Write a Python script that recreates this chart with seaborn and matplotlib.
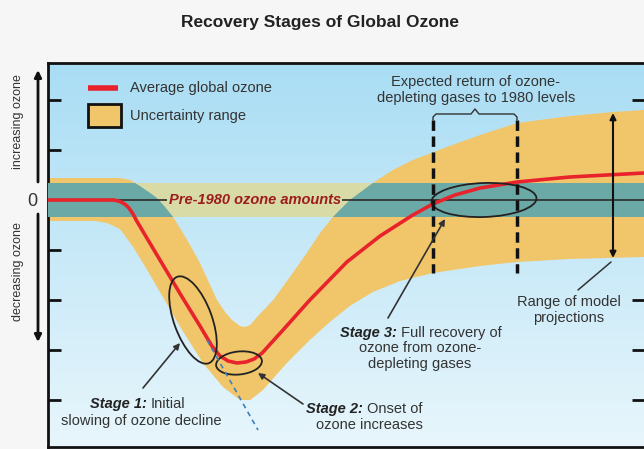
import numpy as np
import matplotlib.pyplot as plt
import seaborn as sns
from matplotlib.patches import Ellipse, Rectangle
from matplotlib.colors import LinearSegmentedColormap

# average global ozone (arbitrary units, 0 = pre-1980 level)
years_avg = [1960.0, 1975.3, 1976.0, 1976.9, 1977.6, 1978.3, 1978.9, 1979.5, 1980.1, 1980.7,
             1982.1, 1986.3, 1991.5, 1995.7, 1998.5, 2000.4, 2002.3, 2004.4, 2006.5, 2008.4,
             2010.3, 2015.2, 2021.5, 2030.2, 2038.0, 2045.7, 2050.4, 2055.6, 2061.5, 2070.2,
             2082.6, 2100.0]
ozone_avg = [0.0, 0.0, -0.01, -0.03, -0.06, -0.1, -0.15, -0.22, -0.3, -0.4,
             -0.6, -1.2, -1.94, -2.52, -2.92, -3.12, -3.22, -3.26, -3.24, -3.18,
             -3.06, -2.6, -2.0, -1.24, -0.72, -0.3, -0.08, 0.1, 0.24, 0.36,
             0.46, 0.54]

# uncertainty range, upper and lower edges
years_upper = [1960.0, 1976.9, 1979.3, 1981.6, 1984.0, 1985.6, 1987.5, 1989.4, 1992.7,
               1995.7, 1999.7, 2001.6, 2003.2, 2005.1, 2006.3, 2007.5, 2009.1, 2012.9,
               2016.8, 2020.8, 2023.9, 2026.9, 2030.9, 2036.3, 2041.0, 2045.7, 2053.7,
               2061.5, 2070.2, 2082.6, 2092.7, 2100.0]
ozone_upper = [0.44, 0.44, 0.40, 0.28, 0.14, 0.04, -0.14, -0.34, -0.80,
               -1.26, -2.00, -2.24, -2.40, -2.52, -2.54, -2.50, -2.34, -2.00,
               -1.54, -1.06, -0.66, -0.34, 0.00, 0.34, 0.60, 0.80, 1.06,
               1.30, 1.54, 1.68, 1.76, 1.80]
years_lower = [1960.0, 1971.0, 1973.9, 1976.9, 1980.0, 1983.3, 1986.3, 1991.5, 1996.4,
               2001.1, 2005.1, 2007.5, 2010.5, 2016.1, 2021.5, 2026.2, 2030.9, 2036.3,
               2042.7, 2050.4, 2061.5, 2070.2, 2082.6, 2100.0]
ozone_lower = [-0.42, -0.42, -0.46, -0.58, -0.94, -1.40, -1.84, -2.60, -3.26,
               -3.74, -4.00, -4.00, -3.80, -3.26, -2.80, -2.44, -2.12, -1.84,
               -1.62, -1.46, -1.32, -1.24, -1.18, -1.14]

pre1980_low, pre1980_high = -0.34, 0.34
tick_levels = [-4, -3, -2, -1, 1, 2]

ORANGE = '#f1c66a'
TEAL = '#6aa9a6'
KHAKI = '#d9dba6'
RED = '#e8232b'
INK = '#333333'

sns.set_style('white')
plt.rcParams['font.family'] = ['Liberation Sans', 'DejaVu Sans']

fig = plt.figure(figsize=(6.44, 4.49), dpi=100, facecolor='#f6f6f6')
ax = fig.add_axes([48 / 644, 2 / 449, 596 / 644, 384 / 449])
ax.set_xlim(1960, 2100)
ax.set_ylim(-4.94, 2.74)

# sky gradient
grad = np.linspace(0, 1, 256)[:, None]
sky = LinearSegmentedColormap.from_list('sky', ['#a9ddf4', '#e8f6fc'])
ax.imshow(grad, extent=[1960, 2100, -4.94, 2.74], aspect='auto', cmap=sky,
          origin='upper', zorder=0)

# uncertainty band + pre-1980 strip (teal where they overlap)
band_x = np.concatenate([years_upper, years_lower[::-1]])
band_y = np.concatenate([ozone_upper, ozone_lower[::-1]])
band = ax.fill(band_x, band_y, color=ORANGE, lw=0, zorder=1)[0]
ax.axhspan(pre1980_low, pre1980_high, color=KHAKI, lw=0, zorder=2)
overlap = ax.axhspan(pre1980_low, pre1980_high, color=TEAL, lw=0, zorder=3)
overlap.set_clip_path(band)

ax.hlines([0, 0], [1976.2, 2029.1], [1988.0, 2100], color='#2a2a2a', lw=1.2, zorder=4)

sns.lineplot(x=years_avg, y=ozone_avg, color=RED, lw=2.6, ax=ax, zorder=6, legend=False,
             solid_joinstyle='round')

ax.set_xticks([])
ax.set_yticks(tick_levels)
ax.set_yticklabels([])
ax.tick_params(axis='y', which='both', direction='in', length=9, width=2,
               color='#111111', left=True, right=True)
for side in ['left', 'top', 'bottom']:
    ax.spines[side].set_linewidth(2)
    ax.spines[side].set_color('#111111')
ax.spines['right'].set_visible(False)

# overlay in pixel coordinates for annotations
ov = fig.add_axes([0, 0, 1, 1], facecolor='none')
ov.set_xlim(0, 644)
ov.set_ylim(449, 0)
ov.axis('off')

ov.text(320, 22, 'Recovery Stages of Global Ozone', ha='center', va='center',
        fontsize=12.5, fontweight='bold', color='#222222')

# left axis labels
ov.text(32, 201, '0', ha='center', va='center', fontsize=13, color=INK)
ov.text(18, 122, 'increasing ozone', rotation=90, ha='center', va='center', fontsize=9, color=INK)
ov.text(18, 272, 'decreasing ozone', rotation=90, ha='center', va='center', fontsize=9, color=INK)
arrow_kw = dict(arrowstyle='-|>', lw=2, color='#111111', mutation_scale=10, shrinkA=0, shrinkB=0)
ov.annotate('', xy=(38, 70), xytext=(38, 182), arrowprops=arrow_kw)
ov.annotate('', xy=(38, 342), xytext=(38, 214), arrowprops=arrow_kw)

# legend
ov.plot([88, 118], [88, 88], color=RED, lw=4, solid_capstyle='butt')
ov.add_patch(Rectangle((88, 104), 33, 23, facecolor=ORANGE, edgecolor='#111111', lw=2))
ov.text(130, 88, 'Average global ozone', va='center', fontsize=10.5, color=INK)
ov.text(130, 116, 'Uncertainty range', va='center', fontsize=10.5, color=INK)

ov.text(169, 200, 'Pre-1980 ozone amounts', va='center', fontsize=10.5,
        fontweight='bold', fontstyle='italic', color='#9c1c1c')

# trend extrapolation
ov.plot([207, 258], [340, 430], color='#3f7fbf', lw=1.2, dashes=(3, 2.5))

# stage ellipses
for (cx, cy, w, h, a) in [(193, 320, 92, 38, 70), (239, 363, 46, 23, -6), (484, 200, 105, 34, -2)]:
    ov.add_patch(Ellipse((cx, cy), w, h, angle=a, fill=False, edgecolor='#222222', lw=1.3))

# return of ozone-depleting gases
ov.plot([433, 433], [120, 273], color='#111111', lw=2.5, dashes=(3, 1.6))
ov.plot([517, 517], [120, 273], color='#111111', lw=2.5, dashes=(3, 1.6))
ov.plot([433, 433, 436, 471, 475, 479, 514, 517, 517],
        [120, 117, 114, 114, 109, 114, 114, 117, 120], color='#333333', lw=1)
ov.text(476, 82, 'Expected return of ozone-', ha='center', va='center', fontsize=10.5, color=INK)
ov.text(476, 98, 'depleting gases to 1980 levels', ha='center', va='center', fontsize=10.5, color=INK)

# range of model projections
ov.annotate('', xy=(613, 113), xytext=(613, 258),
            arrowprops=dict(arrowstyle='<|-|>', lw=1.5, color='#111111', mutation_scale=9,
                            shrinkA=0, shrinkB=0))
ov.plot([578, 611], [290, 262], color=INK, lw=1.1)
ov.text(569, 302, 'Range of model', ha='center', va='center', fontsize=10.5, color=INK)
ov.text(569, 318, 'projections', ha='center', va='center', fontsize=10.5, color=INK)

# stage pointers
pointer = dict(arrowstyle='-|>', lw=1.2, color=INK, mutation_scale=9, shrinkA=0, shrinkB=0)
ov.annotate('', xy=(180, 343), xytext=(143, 388), arrowprops=pointer)
ov.annotate('', xy=(258, 373), xytext=(303, 404), arrowprops=pointer)
ov.annotate('', xy=(445, 219), xytext=(388, 318), arrowprops=pointer)

bi = dict(fontsize=10.5, fontweight='bold', fontstyle='italic', color='#222222', va='center')
rg = dict(fontsize=10.5, color=INK, va='center')
ov.text(147, 404, 'Stage 1:', ha='right', **bi)
ov.text(151, 404, 'Initial', ha='left', **rg)
ov.text(141, 421, 'slowing of ozone decline', ha='center', **rg)

ov.text(363, 409, 'Stage 2:', ha='right', **bi)
ov.text(367, 409, 'Onset of', ha='left', **rg)
ov.text(369, 425, 'ozone increases', ha='center', **rg)

ov.text(397, 333, 'Stage 3:', ha='right', **bi)
ov.text(401, 333, 'Full recovery of', ha='left', **rg)
ov.text(420, 348, 'ozone from ozone-', ha='center', **rg)
ov.text(420, 364, 'depleting gases', ha='center', **rg)

fig.savefig('out.png', dpi=100, facecolor=fig.get_facecolor())
